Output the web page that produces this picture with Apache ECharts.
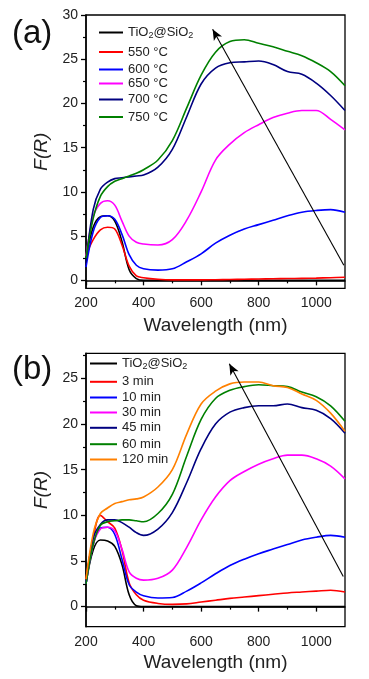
<!DOCTYPE html>
<html><head><meta charset="utf-8">
<script src="https://cdn.jsdelivr.net/npm/echarts@6/dist/echarts.min.js"></script>
<style>html,body{margin:0;padding:0;background:#fff}#c{width:369px;height:679px}</style>
</head><body><div id="c"></div>
<script>
// ---- data ----
const wavelengths = [200,225,250,275,300,325,350,375,400,450,500,550,600,650,700,750,800,850,900,950,1000,1050,1100];

// panel (a): annealing temperature
const namesA = ['TiO2@SiO2','550 °C','600 °C','650 °C','700 °C','750 °C'];
const tio2A = [2.5,6.0,7.2,7.3,6.7,4.4,1.2,0.2,0,0,0,0,0,0,0,0,0,0,0,0,0,0,0];
const t550  = [2.8,4.6,5.7,6.0,5.8,4.0,1.6,0.5,0.3,0.12,0.05,0.05,0.05,0.07,0.1,0.12,0.15,0.18,0.2,0.22,0.25,0.3,0.35];
const t600  = [1.5,5.5,7.1,7.3,6.9,5.2,2.9,1.7,1.3,1.15,1.3,2.1,3.0,4.2,5.1,5.8,6.3,6.8,7.3,7.7,7.9,8.0,7.7];
const t650  = [2.7,7.2,8.7,9.0,8.5,6.7,5.0,4.3,4.1,4.0,4.6,6.8,10.0,13.6,15.4,16.7,17.6,18.4,18.9,19.2,19.2,18.2,17.0];
const t700  = [2.0,8.0,10.3,11.1,11.5,11.6,11.7,11.8,11.9,12.8,14.8,18.5,22.2,24.0,24.6,24.7,24.8,24.4,23.6,23.3,22.3,20.9,19.2];
const t750  = [2.5,7.0,9.5,10.6,11.2,11.5,11.8,12.1,12.5,13.6,15.8,19.5,23.2,25.8,27.0,27.2,26.8,26.4,25.9,25.4,24.6,23.6,22.0];

// panel (b): annealing time
const namesB = ['TiO2@SiO2','3 min','10 min','30 min','45 min','60 min','120 min'];
const tio2B = [2.5,6.2,7.3,7.2,6.6,4.6,1.3,0.1,0,0,0,0,0,0,0,0,0,0,0,0,0,0,0];
const m3    = [3.0,7.5,10.0,9.3,8.6,6.2,2.6,1.3,0.7,0.35,0.25,0.3,0.5,0.7,0.9,1.05,1.2,1.35,1.5,1.6,1.7,1.8,1.6];
const m10   = [2.5,6.8,8.6,8.7,7.9,5.2,2.4,1.6,1.2,0.95,1.0,1.7,2.6,3.6,4.5,5.2,5.8,6.3,6.8,7.3,7.6,7.8,7.6];
const m30   = [2.5,6.8,8.5,8.7,8.3,6.3,3.8,3.1,2.9,3.1,4.0,6.5,9.5,12.0,13.8,14.8,15.6,16.2,16.6,16.6,16.2,15.4,14.0];
const m45   = [2.5,7.5,9.0,9.5,9.5,9.2,8.7,8.1,7.8,8.5,10.3,13.6,17.3,20.0,21.3,21.8,22.0,22.0,22.2,21.8,21.5,20.6,19.0];
const m60   = [2.5,6.8,8.9,9.3,9.4,9.5,9.5,9.4,9.3,10.2,12.3,16.5,20.5,22.8,23.7,24.1,24.3,24.2,24.1,23.5,23.0,22.0,20.3];
const m120  = [3.0,8.0,10.2,10.8,11.3,11.5,11.7,11.8,12.0,13.1,15.0,18.9,22.2,23.6,24.4,24.6,24.6,24.2,24.0,23.3,22.6,21.2,19.2];

// axis ticks
const xLabels = [200,400,600,800,1000];
const xMinor = [300,500,700,900];
const yLabelsA = [0,5,10,15,20,25,30];
const yMinorA = [2.5,7.5,12.5,17.5,22.5,27.5];
const yLabelsB = [0,5,10,15,20,25];
const yMinorB = [2.5,7.5,12.5,17.5,22.5,27.5];

// arrows [start, end] in data units
const arrowA = [[1096,1.7],[640,28.4]];
const arrowB = [[1094,3.3],[698,26.6]];

// ---- styling ----
const colorsA = ['#000000','#ff0000','#0000ff','#ff00ff','#000080','#008000'];
const colorsB = ['#000000','#ff0000','#0000ff','#ff00ff','#000080','#008000','#ff8000'];
const FONT = 'Liberation Sans, Arial, sans-serif';

function pairs(arr){ return wavelengths.map((w,i)=>[w,arr[i]]); }
const plain = v => String(v);

function mainX(grid,gap){
  return {type:'value',gridIndex:grid,min:200,max:1100,name:'Wavelength (nm)',nameLocation:'middle',nameGap:gap,
    nameTextStyle:{fontSize:19,color:'#222',fontFamily:FONT},
    axisLine:{show:true,lineStyle:{color:'#000',width:1.5}},
    axisTick:{show:true,length:5,customValues:xLabels,lineStyle:{color:'#000',width:1.3}},
    axisLabel:{customValues:xLabels,formatter:plain,fontSize:14,color:'#222',fontFamily:FONT,margin:8},
    splitLine:{show:false}};
}
function minorX(grid){
  return {type:'value',gridIndex:grid,min:200,max:1100,position:'bottom',
    axisLine:{show:false},axisLabel:{show:false},splitLine:{show:false},
    axisTick:{show:true,length:3,customValues:xMinor,lineStyle:{color:'#000',width:1.2}}};
}
function mainY(grid,min,max,labels){
  return {type:'value',gridIndex:grid,min:min,max:max,name:'F(R)',nameLocation:'middle',nameGap:30,
    nameTextStyle:{fontSize:19,fontStyle:'italic',color:'#222',fontFamily:FONT},
    axisLine:{show:true,lineStyle:{color:'#000',width:1.5}},
    axisTick:{show:true,length:5,customValues:labels,lineStyle:{color:'#000',width:1.3}},
    axisLabel:{customValues:labels,formatter:plain,fontSize:14,color:'#222',fontFamily:FONT,margin:8},
    splitLine:{show:false}};
}
function minorY(grid,min,max,minor){
  return {type:'value',gridIndex:grid,min:min,max:max,position:'left',
    axisLine:{show:false},axisLabel:{show:false},splitLine:{show:false},
    axisTick:{show:true,length:3,customValues:minor,lineStyle:{color:'#000',width:1.2}}};
}

function line(name,data,color,xi,yi,extra){
  const s = {type:'line',name:name,xAxisIndex:xi,yAxisIndex:yi,data:pairs(data),showSymbol:false,symbol:'none',
    smooth:0.35,lineStyle:{color:color,width:1.6},itemStyle:{color:color},z:3,silent:true,animation:false};
  return Object.assign(s, extra||{});
}
function arrow(a){
  return {silent:true,symbol:['none','arrow'],symbolSize:[7,11],label:{show:false},
    lineStyle:{color:'#000',width:1.1,type:'solid'},animation:false,
    data:[[{coord:a[0]},{coord:a[1]}]]};
}

const seriesA = [tio2A,t550,t600,t650,t700,t750];
const seriesB = [tio2B,m3,m10,m30,m45,m60,m120];

const series = [];
seriesA.forEach((d,i)=>series.push(line(namesA[i],d,colorsA[i],0,0, i===0?{markLine:arrow(arrowA)}:null)));
seriesB.forEach((d,i)=>series.push(line(i===0?'TiO2@SiO2 ':namesB[i],d,colorsB[i],2,2, i===0?{markLine:arrow(arrowB)}:null)));

const legendYA = [34,53.5,71,85,101,118.5];
const legendYB = [365,383.3,399,414,429.3,445.7,461];
const rich = {n:{fontSize:13,color:'#222',fontFamily:FONT},s:{fontSize:9,color:'#222',fontFamily:FONT,padding:[7,0,0,0]}};
function fmt(name){
  if (name.indexOf('TiO2@SiO2')===0) return '{n|TiO}{s|2}{n|@SiO}{s|2}';
  return '{n|'+name+'}';
}
const legends = [];
namesA.forEach((n,i)=>legends.push({data:[n],left:99,top:legendYA[i]-8,itemWidth:24,itemHeight:2,icon:'rect',selectedMode:false,
  formatter:fmt,textStyle:{rich:rich,fontSize:13,color:'#222',fontFamily:FONT},padding:0}));
namesB.forEach((n,i)=>legends.push({data:[i===0?'TiO2@SiO2 ':n],left:90,top:legendYB[i]-8,itemWidth:27,itemHeight:2,icon:'rect',selectedMode:false,
  formatter:fmt,textStyle:{rich:rich,fontSize:13,color:'#222',fontFamily:FONT},padding:0}));

const option = {
  backgroundColor:'#fff',
  animation:false,
  title:[
    {text:'(a)',left:12,top:17,padding:0,textStyle:{fontSize:33,fontWeight:'normal',color:'#111',fontFamily:FONT}},
    {text:'(b)',left:12,top:353,padding:0,textStyle:{fontSize:33,fontWeight:'normal',color:'#111',fontFamily:FONT}}
  ],
  grid:[
    {left:86,width:259,top:15,height:273.3,show:true,borderColor:'#000',borderWidth:1.3,backgroundColor:'transparent'},
    {left:86,width:259,top:353.3,height:273.4,show:true,borderColor:'#000',borderWidth:1.3,backgroundColor:'transparent'}
  ],
  xAxis:[mainX(0,28),minorX(0),mainX(1,27),minorX(1)],
  yAxis:[mainY(0,-0.9,30,yLabelsA),minorY(0,-0.9,30,yMinorA),mainY(1,-2.2,27.75,yLabelsB),minorY(1,-2.2,27.75,yMinorB)],
  legend:legends,
  series:series
};
const chart = echarts.init(document.getElementById('c'),null,{renderer:'canvas'});
chart.setOption(option);
</script>
</body></html>
